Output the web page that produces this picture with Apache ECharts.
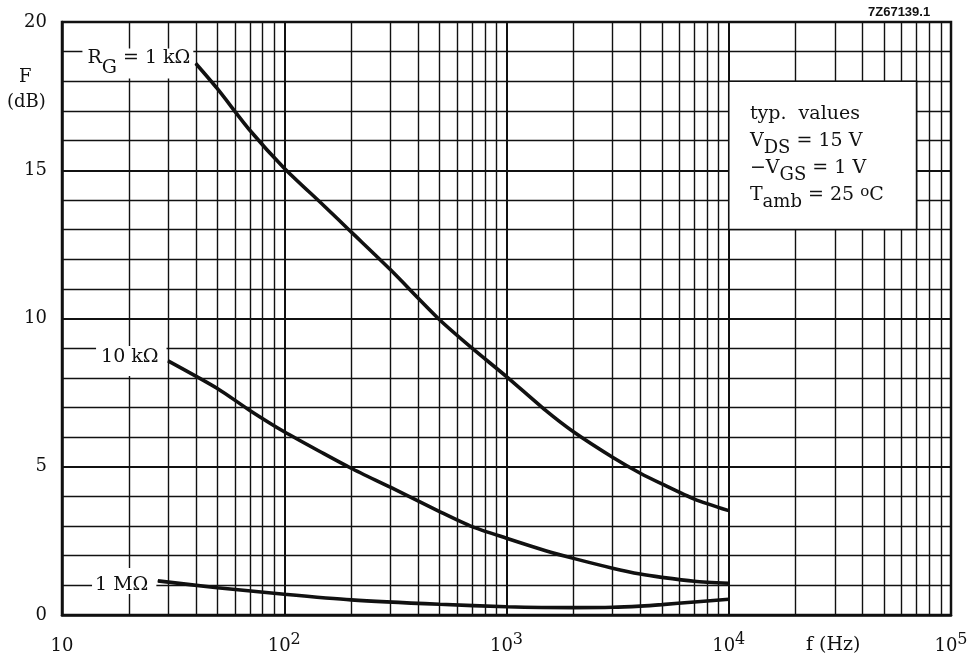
<!DOCTYPE html>
<html><head><meta charset="utf-8">
<script src="https://cdn.jsdelivr.net/npm/echarts@6/dist/echarts.min.js"></script>
<style>html,body{margin:0;padding:0;background:#fff}#c{width:975px;height:657px}</style>
</head><body><div id="c"></div>
<script>
// ---- data ----
const freq1k  = [40, 50, 70, 100, 150, 200, 300, 500, 700, 1000, 1500, 2000, 3000, 4000, 5000, 7000, 10000];
const noise1k = [18.6, 17.75, 16.35, 15.07, 13.82, 12.92, 11.65, 9.96, 9.0, 8.04, 6.9, 6.18, 5.32, 4.78, 4.42, 3.91, 3.52];
const freq10k  = [30, 50, 70, 100, 150, 200, 300, 500, 700, 1000, 1500, 2000, 3000, 4000, 5000, 7000, 10000];
const noise10k = [8.57, 7.64, 6.9, 6.18, 5.45, 4.95, 4.31, 3.49, 2.98, 2.59, 2.17, 1.91, 1.58, 1.38, 1.27, 1.14, 1.07];
const freq1M  = [27, 50, 100, 200, 500, 1000, 2000, 3000, 4000, 5000, 7000, 10000];
const noise1M = [1.15, 0.92, 0.70, 0.51, 0.36, 0.28, 0.25, 0.26, 0.30, 0.35, 0.44, 0.53];

const xTickExponents = {10: '', 100: '2', 1000: '3', 10000: '4', 100000: '5'};
const yTickLabels = ['0', '5', '10', '15', '20'];
const gridDecades = [10, 100, 1000, 10000];
const gridMultipliers = [2, 3, 4, 5, 6, 7, 8, 9];

const INK = '#111';
const SERIF = '"DejaVu Serif", serif';

const minorFreqs = [];
gridDecades.forEach(d => gridMultipliers.forEach(m => minorFreqs.push(d * m)));

function mainStyle(extra) {
  return Object.assign({fontFamily: SERIF, fontSize: 18, color: INK, verticalAlign: 'middle'}, extra);
}

function curveData(freqs, vals, label) {
  return freqs.map((f, i) => i === 0 ? {value: [f, vals[i]], label: label} : [f, vals[i]]);
}

const lblRG = {
  show: true, position: 'left', distance: 2,
  backgroundColor: '#fff', padding: [5, 3, 5, 5],
  formatter: '{m|R}{s|G}{m| = 1 k\u03A9}',
  rich: {
    m: mainStyle({fontSize: 19, lineHeight: 20, padding: [0, 0, 10, 0]}),
    s: mainStyle({fontSize: 19, lineHeight: 20, padding: [10, 0, 0, 0]})
  }
};
const lbl10k = {
  show: true, position: 'left', distance: 1,
  backgroundColor: '#fff', padding: [5, 8, 5, 5],
  formatter: '{m|10 k\u03A9}',
  rich: { m: mainStyle({fontSize: 19, lineHeight: 20, padding: [0, 0, 8, 0]}) }
};
const lbl1M = {
  show: true, position: 'left', distance: 1,
  backgroundColor: '#fff', padding: [3, 8, 3, 3],
  formatter: '{m|1 M\u03A9}',
  rich: { m: mainStyle({fontSize: 19, lineHeight: 20, padding: [8, 0, 0, 0]}) }
};

function curve(name, freqs, vals, label) {
  return {
    name: name, type: 'line', z: 3,
    data: curveData(freqs, vals, label),
    smooth: 0.25,
    showSymbol: true, showAllSymbol: true,
    symbol: 'circle', symbolSize: 1,
    itemStyle: {color: INK},
    lineStyle: {color: INK, width: 3.6},
    animation: false, silent: true
  };
}

const chart = echarts.init(document.getElementById('c'), null, {renderer: 'canvas'});
chart.setOption({
  animation: false,
  backgroundColor: '#fff',
  grid: {left: 62, right: 24, top: 22, bottom: 42, show: true, borderColor: INK, borderWidth: 2.5, backgroundColor: 'transparent'},
  xAxis: {
    type: 'log', logBase: 10, min: 10, max: 100000,
    axisLine: {show: true, lineStyle: {color: INK, width: 2.5}},
    axisTick: {show: false},
    splitLine: {show: true, lineStyle: {color: INK, width: 2}},
    axisLabel: {
      margin: 18, color: INK,
      formatter: function (v) {
        const e = xTickExponents[Math.round(v)];
        return e ? '{b|10}{s|' + e + '}' : '{b|10}';
      },
      rich: {
        b: mainStyle({lineHeight: 20, padding: [6, 0, 0, 0]}),
        s: mainStyle({fontSize: 16, lineHeight: 20, padding: [0, 0, 6, 0]})
      }
    }
  },
  yAxis: {
    type: 'value', min: 0, max: 20, interval: 5,
    axisLine: {show: true, lineStyle: {color: INK, width: 2.5}},
    axisTick: {show: false},
    minorTick: {show: false, splitNumber: 5},
    splitLine: {show: true, lineStyle: {color: INK, width: 2}},
    minorSplitLine: {show: true, lineStyle: {color: INK, width: 1.4}},
    axisLabel: {
      margin: 15, color: INK, fontFamily: SERIF, fontSize: 18,
      formatter: function (v) { return yTickLabels[Math.round(v / 5)]; }
    }
  },
  series: [
    {
      type: 'line', data: [], silent: true,
      markLine: {
        z: 1, silent: true, symbol: 'none', animation: false,
        label: {show: false},
        lineStyle: {color: INK, width: 1.4, type: 'solid'},
        data: minorFreqs.map(f => ({xAxis: f}))
      }
    },
    {
      type: 'line', data: [], silent: true,
      markArea: {
        z: 2, silent: true, animation: false,
        itemStyle: {color: '#fff', borderColor: INK, borderWidth: 1.6},
        label: {
          show: true, position: 'insideTopLeft', distance: 0, offset: [22, 24],
          formatter: [
            '{t|typ.  values}',
            '{t|V}{d|DS}{t| = 15 V}',
            '{t|\u2212V}{d|GS}{t| = 1 V}',
            '{t|T}{d|amb}{t| = 25 }{u|o}{t|C}'
          ].join('\n'),
          rich: {
            t: mainStyle({fontSize: 19, lineHeight: 27, padding: [0, 0, 7, 0]}),
            d: mainStyle({fontSize: 18, lineHeight: 27, padding: [7, 0, 0, 0]}),
            u: mainStyle({fontSize: 15, lineHeight: 27, padding: [0, 0, 13, 0]})
          }
        },
        data: [[{xAxis: 10000, yAxis: 18}, {xAxis: 70000, yAxis: 13}]]
      }
    },
    curve('1 kΩ', freq1k, noise1k, lblRG),
    curve('10 kΩ', freq10k, noise10k, lbl10k),
    curve('1 MΩ', freq1M, noise1M, lbl1M)
  ],
  graphic: [
    {type: 'text', left: 19, top: 68, style: {text: 'F', font: '18px "DejaVu Serif"', fill: INK}},
    {type: 'text', left: 7, top: 93, style: {text: '(dB)', font: '18px "DejaVu Serif"', fill: INK}},
    {type: 'text', left: 806, top: 636, style: {text: 'f (Hz)', font: '19px "DejaVu Serif"', fill: INK}},
    {type: 'text', left: 868, top: 6, style: {text: '7Z67139.1', font: 'bold 13px "Liberation Sans"', fill: INK}}
  ]
});
</script>
</body></html>
